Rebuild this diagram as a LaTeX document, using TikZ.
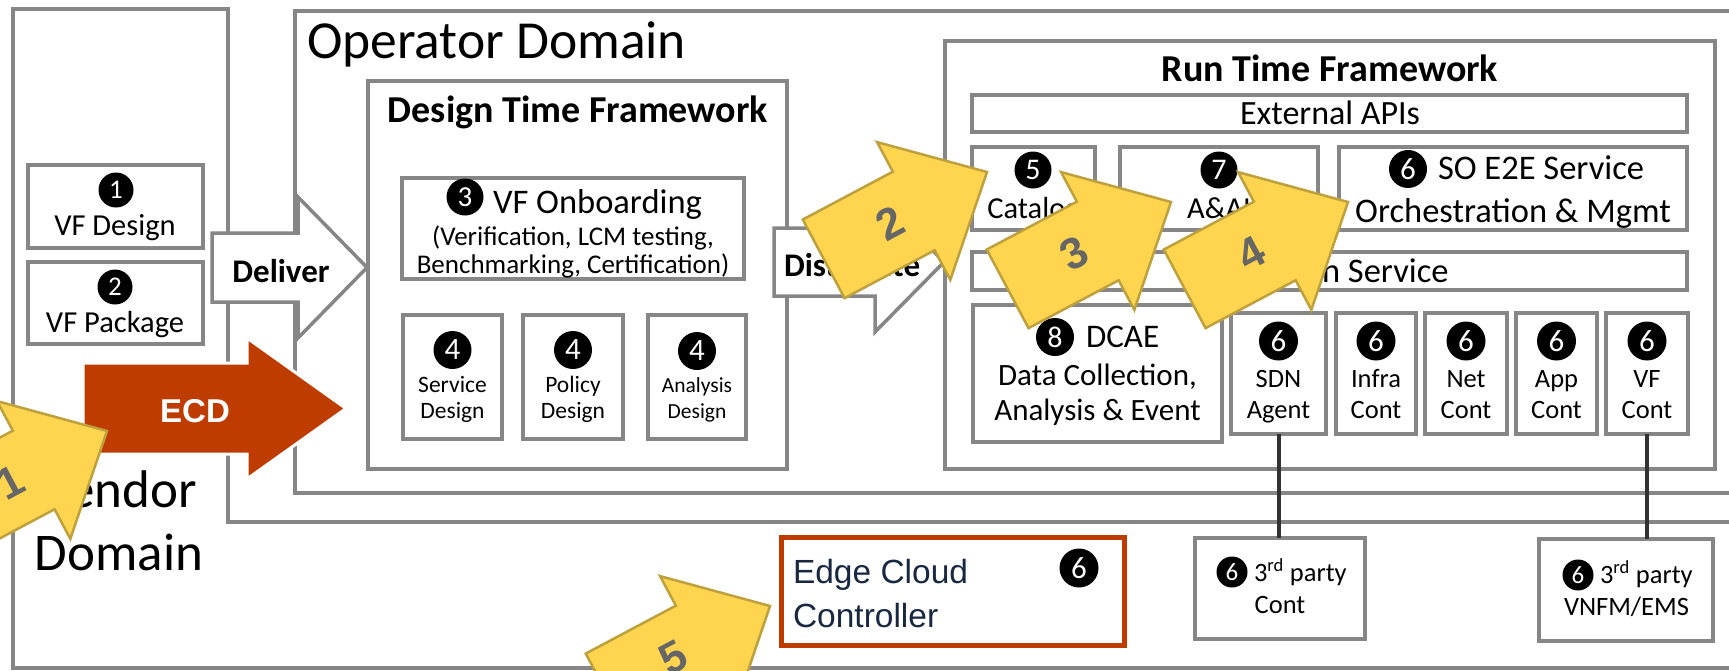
\documentclass[tikz,border=0pt]{standalone}
\usepackage{fontspec}
\setmainfont{Carlito}
\newfontfamily\arialf{Liberation Sans}
\newcommand\myfs[1]{\fontsize{#1}{#1}\selectfont}
\definecolor{lgray}{RGB}{134,134,134}
\definecolor{ecdc}{RGB}{190,60,0}
\definecolor{yel}{RGB}{255,213,80}
\definecolor{yedge}{RGB}{190,160,60}
\definecolor{ynum}{RGB}{102,102,102}
\definecolor{navy}{RGB}{25,40,65}
\definecolor{connc}{RGB}{50,50,50}
\newcommand\bx[5]{\node[box,anchor=north west,minimum width={(#4-#2)*1pt},minimum height={(#5-#3)*1pt}] (#1) at (#2,-#3) {};}
\begin{document}
\begin{tikzpicture}[x=1pt,y=1pt,
  box/.style={draw=lgray,line width=3.5pt,fill=white,inner sep=0pt,outer sep=0pt},
  dline/.style={draw=lgray,line width=3.5pt},
  badge/.style 2 args={circle,fill=black,text=white,inner sep=0pt,minimum size=#1pt,font=\myfs{#2}},
  t/.style={anchor=base,inner sep=0pt,outer sep=0pt},
  tw/.style={anchor=base west,inner sep=0pt,outer sep=0pt},
  conn/.style={draw=connc,line width=4pt},
  pics/yarrow/.style={code={
    \draw[fill=yel,draw=yedge,line width=2.5pt] (-185,44.5) -- (-83,44.5) -- (-83,78) -- (0,0) -- (-83,-78) -- (-83,-44.5) -- (-185,-44.5) -- cycle;
    \node[transform shape,text=ynum,font=\arialf\bfseries\myfs{44},inner sep=0pt] (-num) at (-110,0) {#1};
  }}
]
\useasboundingbox (0,0) rectangle (1729,-670);
\clip (0,0) rectangle (1729,-670);
\fill[white] (0,0) rectangle (1729,-670);

% domains
\draw[dline] (1745,-522) -- (228,-522) -- (228,-9) -- (13,-9) -- (13,-668) -- (1745,-668);
\draw[dline] (1745,-11) -- (295,-11) -- (295,-493) -- (1745,-493);
\node[tw,font=\myfs{53.5}] (opd) at (307,-58) {Operator Domain};
\node[t,font=\myfs{53}] (vnd1) at (119,-507) {Vendor};
\node[t,font=\myfs{53}] (vnd2) at (119,-570) {Domain};

% vendor boxes
\bx{vfd}{28}{165}{203}{248}
\bx{vfp}{28}{262}{203}{344}
\node[badge={35}{27}] (b1) at (116,-190) {1};
\node[t,font=\myfs{30.5}] (vfdt) at (115,-235) {VF Design};
\node[badge={35}{27}] (b2) at (115,-287) {2};
\node[t,font=\myfs{30.5}] (vfpt) at (115,-332) {VF Package};

% design time
\bx{dtf}{368}{81}{787}{469}
\node[t,font=\bfseries\myfs{38}] (dtft) at (578,-122) {Design Time Framework};
\bx{onb}{402}{178}{744}{279}
\node[badge={37}{29}] (b3) at (465,-197) {3};
\node[tw,font=\myfs{34.5}] (onbt) at (493,-213) {VF Onboarding};
\node[t,font=\myfs{27}] (onb2) at (573,-245) {(Verification, LCM testing,};
\node[t,font=\myfs{27}] (onb3) at (573,-273) {Benchmarking, Certification)};
\bx{sd}{403}{315}{502}{439}
\bx{pd}{523}{315}{623}{439}
\bx{ad}{648}{315}{746}{439}
\node[badge={38}{31}] (b4a) at (452.5,-350) {4};
\node[badge={38}{31}] (b4b) at (573,-350) {4};
\node[badge={38}{31}] (b4c) at (697,-351) {4};
\node[t,font=\myfs{23.5}] (sdt1) at (452.5,-392) {Service};
\node[t,font=\myfs{23.5}] (sdt2) at (452.5,-418) {Design};
\node[t,font=\myfs{23.5}] (pdt1) at (573,-392) {Policy};
\node[t,font=\myfs{23.5}] (pdt2) at (573,-418) {Design};
\node[t,font=\myfs{21.5}] (adt1) at (697,-392) {Analysis};
\node[t,font=\myfs{21.5}] (adt2) at (697,-418) {Design};

% run time
\bx{rtf}{945}{41}{1715}{469}
\node[t,font=\bfseries\myfs{38}] (rtft) at (1330,-81) {Run Time Framework};
\bx{api}{972}{95}{1687}{132}
\node[t,font=\myfs{34}] (apit) at (1330,-124) {External APIs};
\bx{cat}{972}{147}{1095}{230}
\bx{aai}{1120}{147}{1318}{230}
\bx{so}{1339}{147}{1687}{230}
\node[badge={37}{30}] (b5) at (1033,-170) {5};
\node[t,font=\myfs{30.5}] (catt) at (1033.5,-218) {Catalog};
\node[badge={37}{30}] (b7) at (1219,-170) {7};
\node[t,font=\myfs{30.5}] (aait) at (1219,-218) {A\&AI};
\node[badge={38}{31}] (b6so) at (1408,-169) {6};
\node[tw,font=\myfs{34.5}] (sot1) at (1438,-179.5) {SO E2E Service};
\node[t,font=\myfs{34.5}] (sot2) at (1513,-222) {Orchestration \& Mgmt};
\bx{svc}{972}{252}{1687}{290}
\node[tw,font=\myfs{34.5}] (svct) at (1322,-282) {n Service};
\bx{dcae}{973}{305}{1222}{442}
\node[badge={38}{30}] (b8) at (1055,-337) {8};
\node[tw,font=\myfs{33}] (dcaet) at (1086,-347) {DCAE};
\node[t,font=\myfs{31}] (dcae2) at (1097.5,-385) {Data Collection,};
\node[t,font=\myfs{31}] (dcae3) at (1097.5,-420) {Analysis \& Event};
\bx{sdn}{1231}{313}{1326}{434}
\bx{infra}{1336}{313}{1416}{434}
\bx{net}{1425}{313}{1507}{434}
\bx{app}{1516}{313}{1597}{434}
\bx{vfc}{1606}{313}{1688}{434}
\foreach \n/\cx/\la/\lb in {sdn/1278.5/SDN/Agent, infra/1376/Infra/Cont, net/1466/Net/Cont, app/1556.5/App/Cont, vfc/1647/VF/Cont}{
  \node[badge={39}{31}] (b6\n) at (\cx,-341) {6};
  \node[t,font=\myfs{26.5}] (\n t1) at (\cx,-387) {\la};
  \node[t,font=\myfs{26.5}] (\n t2) at (\cx,-418) {\lb};
}

% third party
\bx{tpc}{1195}{538}{1365}{639}
\bx{tpv}{1539}{539}{1713}{641}
\node[badge={31}{25}] (b6tc) at (1232,-572) {6};
\node[tw,font=\myfs{26.5}] (tpct1) at (1254,-581) {3\textsuperscript{rd} party};
\node[t,font=\myfs{26.5}] (tpct2) at (1280,-613) {Cont};
\node[badge={31}{25}] (b6tv) at (1578,-575) {6};
\node[tw,font=\myfs{26.5}] (tpvt1) at (1600,-583) {3\textsuperscript{rd} party};
\node[t,font=\myfs{26.5}] (tpvt2) at (1626.5,-615) {VNFM/EMS};
\draw[conn] (sdn.south) -- (sdn.south |- tpc.north);
\draw[conn] (vfc.south) -- (vfc.south |- tpv.north);

% edge cloud controller
\node[draw=ecdc,line width=5pt,fill=white,inner sep=0pt,anchor=north west,minimum width=343pt,minimum height=108pt] (ecc) at (779,-535) {};
\node[tw,font=\arialf\myfs{33.5},text=navy] (ecct1) at (793,-583) {Edge Cloud};
\node[tw,font=\arialf\myfs{33.5},text=navy] (ecct2) at (793,-627) {Controller};
\node[badge={39}{31}] (b6e) at (1079,-568) {6};

% deliver / distribute / ECD arrows
\draw[fill=white,draw=lgray,line width=3.5pt] (212,-233) -- (298,-233) -- (298,-197) -- (367,-267.5) -- (298,-338) -- (298,-302) -- (212,-302) -- cycle;
\node[t,font=\bfseries\myfs{33}] (delt) at (281,-282) {Deliver};
\draw[fill=white,draw=lgray,line width=3.5pt] (774,-228) -- (875,-228) -- (875,-192) -- (944,-262) -- (875,-332) -- (875,-296) -- (774,-296) -- cycle;
\node[tw,font=\bfseries\myfs{33}] (dist) at (784,-276) {Distribute};
\draw[fill=ecdc,draw=white,line width=3pt] (83,-363) -- (247,-363) -- (247,-338) -- (346,-408.5) -- (247,-479) -- (247,-454) -- (83,-454) -- cycle;
\node[t,font=\arialf\bfseries\myfs{33}] (ecdt) at (195,-422) {\textcolor{white}{ECD}};

% yellow step arrows
\pic[rotate=28] (y1) at (107,-431) {yarrow=1};
\pic[rotate=28] (y2) at (987,-172) {yarrow=2};
\pic[rotate=28] (y3) at (1171,-202) {yarrow=3};
\pic[rotate=28] (y4) at (1348,-202) {yarrow=4};
\pic[rotate=28] (y5) at (770,-606) {yarrow=5};
\end{tikzpicture}
\end{document}
